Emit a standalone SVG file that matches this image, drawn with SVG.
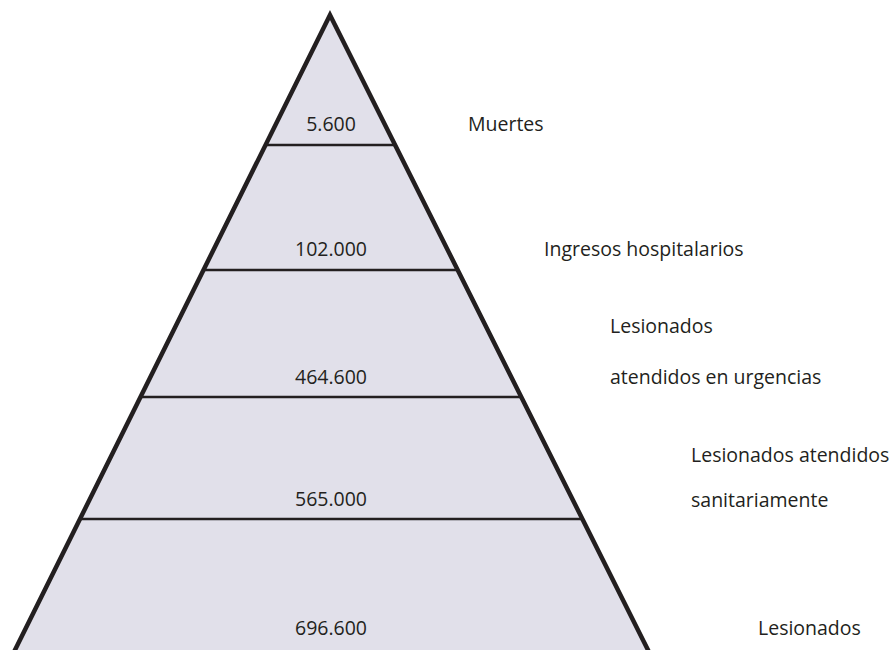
<svg xmlns="http://www.w3.org/2000/svg" width="892" height="650" viewBox="0 0 892 650">
<style>
.t{font-family:"Open Sans","Noto Sans",sans-serif;font-size:19.5px;fill:#231f20}
.n{text-anchor:middle}
.sep{stroke:#231f20;stroke-width:2.5}
</style>
<rect width="892" height="650" fill="#ffffff"/>
<g id="pyramid">
<polygon points="330,15 13,654 650,654" fill="#e1e0ea" stroke="#231f20" stroke-width="4.5" stroke-linejoin="miter"/>
</g>
<g id="separators">
<line class="sep" x1="266" y1="145" x2="395" y2="145"/>
<line class="sep" x1="204" y1="270" x2="457" y2="270"/>
<line class="sep" x1="141" y1="397" x2="520" y2="397"/>
<line class="sep" x1="81" y1="519" x2="581" y2="519"/>
</g>
<g id="level1"><text class="t n" x="331" y="131">5.600</text><text class="t" x="468" y="131">Muertes</text></g>
<g id="level2"><text class="t n" x="331" y="256">102.000</text><text class="t" x="544" y="256">Ingresos hospitalarios</text></g>
<g id="level3"><text class="t n" x="331" y="384">464.600</text><text class="t" x="610" y="333">Lesionados</text><text class="t" x="610" y="384">atendidos en urgencias</text></g>
<g id="level4"><text class="t n" x="331" y="506">565.000</text><text class="t" x="691" y="462">Lesionados atendidos</text><text class="t" x="691" y="507">sanitariamente</text></g>
<g id="level5"><text class="t n" x="331" y="635">696.600</text><text class="t" x="758" y="635">Lesionados</text></g>
</svg>
